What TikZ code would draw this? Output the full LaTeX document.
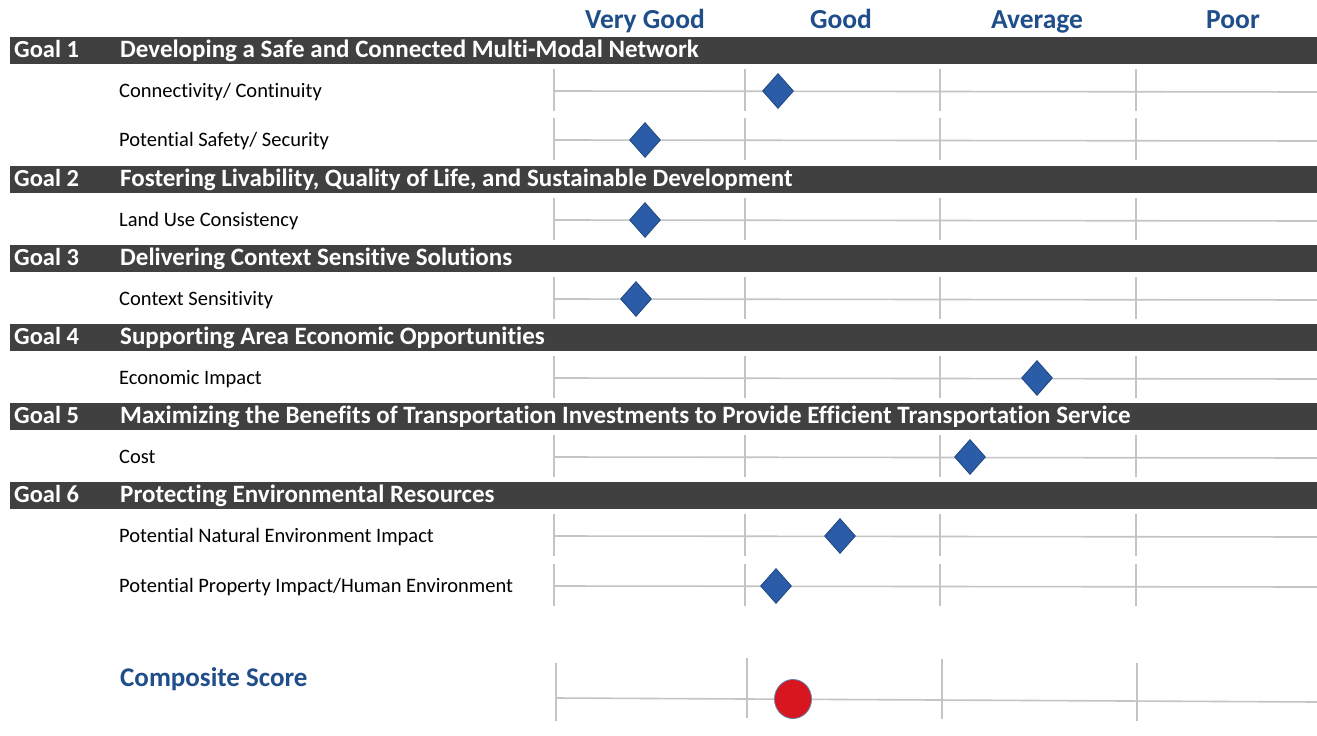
\documentclass[tikz,border=0pt]{standalone}
\usepackage{fontspec}
\setmainfont[Ligatures=NoCommon]{Carlito}
\usetikzlibrary{shapes.geometric}
\definecolor{barbg}{HTML}{404040}
\definecolor{hdblue}{HTML}{1F4E8A}
\definecolor{dmfill}{HTML}{2B5CA8}
\definecolor{dmline}{HTML}{1E4680}
\definecolor{gridc}{HTML}{C4C4C4}
\definecolor{redfill}{HTML}{D7161F}
\begin{document}
\begin{tikzpicture}[x=1pt,y=-1pt,
  goalbar/.style={fill=barbg,draw=none},
  goaltxt/.style={anchor=base west,text=white,font=\bfseries\fontsize{24.5}{28}\selectfont,inner sep=0pt},
  titletxt/.style={anchor=base west,text=white,font=\bfseries\fontsize{25}{28}\selectfont,inner sep=0pt},
  itemtxt/.style={anchor=base west,font=\fontsize{20.5}{24}\selectfont,inner sep=0pt},
  hdtxt/.style={anchor=base,text=hdblue,font=\bfseries\fontsize{27.5}{32}\selectfont,inner sep=0pt},
  gridln/.style={draw=gridc,line width=1.6pt},
  dmd/.style={diamond,fill=dmfill,draw=dmline,line width=0.8pt,minimum width=31pt,minimum height=35pt,inner sep=0pt,aspect=0.88},
  dot/.style={ellipse,fill=redfill,draw=dmline!70,line width=0.8pt,minimum width=37pt,minimum height=39pt,inner sep=0pt}
]
\useasboundingbox (0,0) rectangle (1317,736);
\fill[white] (0,0) rectangle (1317,736);
% headers
\node[hdtxt] (hvg) at (645,28) {Very Good};
\node[hdtxt] (hg) at (841,28) {Good};
\node[hdtxt] (ha) at (1037,28) {Average};
\node[hdtxt] (hp) at (1233,28) {Poor};
% goal bars
\foreach \y/\n/\t in {
  37/1/{Developing a Safe and Connected Multi-Modal Network},
  166/2/{Fostering Livability, Quality of Life, and Sustainable Development},
  245/3/{Delivering Context Sensitive Solutions},
  324/4/{Supporting Area Economic Opportunities},
  403/5/{Maximizing the Benefits of Transportation Investments to Provide Efficient Transportation Service},
  482/6/{Protecting Environmental Resources}}{
  \fill[goalbar] (10,\y) rectangle (1317,\y+27);
  \node[goaltxt] (gl\n) at (14,\y+20) {Goal \n};
  \node[titletxt] (gt\n) at (120,\y+20) {\t};
}
% items
\foreach \y/\n/\t/\mx in {
  91/1/{Connectivity/ Continuity}/778,
  140/2/{Potential Safety/ Security}/645,
  220/3/{Land Use Consistency}/645,
  299/4/{Context Sensitivity}/636,
  378/5/{Economic Impact}/1037,
  457/6/{Cost}/970,
  536/7/{Potential Natural Environment Impact}/840,
  586/8/{Potential Property Impact/Human Environment}/776}{
  \node[itemtxt] (it\n) at (119,\y+6.5) {\t};
  \draw[gridln] (554,\y) -- (1317,\y+1);
  \foreach \gx in {554,745,940,1136}{
    \draw[gridln] (\gx,\y-22) -- (\gx,\y+20);
  }
  \node[dmd] (dm\n) at (\mx,\y) {};
}
% composite
\node[anchor=base west,text=hdblue,font=\bfseries\fontsize{27}{32}\selectfont,inner sep=0pt] (cs) at (120,686) {Composite Score};
\draw[gridln] (556,698) -- (1317,702);
\foreach \gx/\ya/\yb in {556/663/721,747/658/718,942/659/719,1137/663/721}{
  \draw[gridln] (\gx,\ya) -- (\gx,\yb);
}
\node[dot] (cdot) at (793,699) {};
\end{tikzpicture}
\end{document}
